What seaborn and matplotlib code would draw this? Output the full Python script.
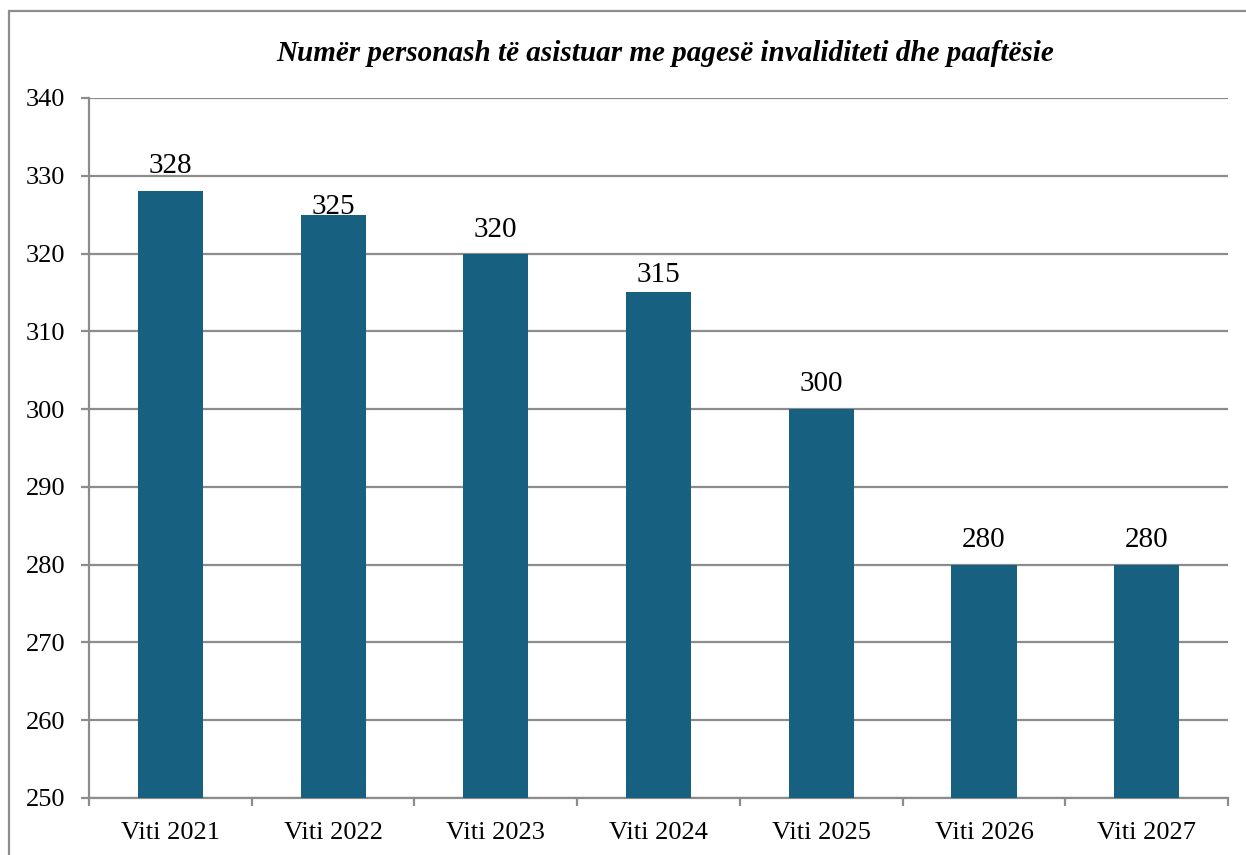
import numpy as np
import pandas as pd
import matplotlib
matplotlib.use('Agg')
import matplotlib.pyplot as plt
import seaborn as sns
from matplotlib.patches import Rectangle

# 데이터
years = ['Viti 2021', 'Viti 2022', 'Viti 2023', 'Viti 2024', 'Viti 2025', 'Viti 2026', 'Viti 2027']
persons = [328, 325, 320, 315, 300, 280, 280]
title = 'Numër personash të asistuar me pagesë invaliditeti dhe paaftësie'

# 라벨 간격 (원본 엑셀 차트처럼 제각각)
label_pad = [9, -3.5, 7.5, 3, 9, 8.5, 8.5]

sns.set_style('white', {'xtick.bottom': True, 'ytick.left': True,
                        'text.color': 'black', 'xtick.color': 'black',
                        'ytick.color': 'black'})
plt.rcParams['font.family'] = ['Liberation Serif', 'DejaVu Serif']
plt.rcParams['font.size'] = 19

df = pd.DataFrame({'year': years, 'n': persons})

fig = plt.figure(figsize=(12.46, 8.55), dpi=100)
ax = fig.add_axes([0.0714, 0.0667, 0.9142, 0.8187])

grey = '#8c8c8c'
sns.barplot(data=df, x='year', y='n', color='#17607f', width=0.4,
            saturation=1, linewidth=0, ax=ax, zorder=3)

ax.set_ylim(250, 340)
ax.set_yticks(np.arange(250, 341, 10))
ax.set_xlim(-0.5, len(years) - 0.5)
ax.set_xlabel('')
ax.set_ylabel('')

# 격자
ax.grid(axis='y', color=grey, linewidth=1.6, zorder=0)
ax.set_axisbelow(True)
for s in ['top', 'right']:
    ax.spines[s].set_visible(False)
for s in ['left', 'bottom']:
    ax.spines[s].set_color(grey)
    ax.spines[s].set_linewidth(1.6)

ax.tick_params(axis='y', length=6, width=1.6, color=grey, labelcolor='black',
               pad=11, labelsize=19)
ax.tick_params(axis='x', which='major', length=0, pad=17, labelsize=19,
               labelcolor='black')
ax.set_xticks(np.arange(-0.5, len(years), 1), minor=True)
ax.tick_params(axis='x', which='minor', length=6, width=1.6, color=grey)

bars = ax.containers[0]
for i, rect in enumerate(bars):
    ax.bar_label(bars, labels=[str(v) if j == i else '' for j, v in enumerate(persons)],
                 padding=label_pad[i], fontsize=21, color='black')

fig.text(0.534, 0.938, title, ha='center', va='center', color='black',
         fontsize=21, fontweight='bold', fontstyle='italic')

# 테두리
fig.patches.append(Rectangle((9 / 1246, -0.1), 1.2, 1 - 11 / 855 + 0.1,
                             transform=fig.transFigure, fill=False,
                             edgecolor=grey, linewidth=1.6))

fig.savefig('out.png', dpi=100)
